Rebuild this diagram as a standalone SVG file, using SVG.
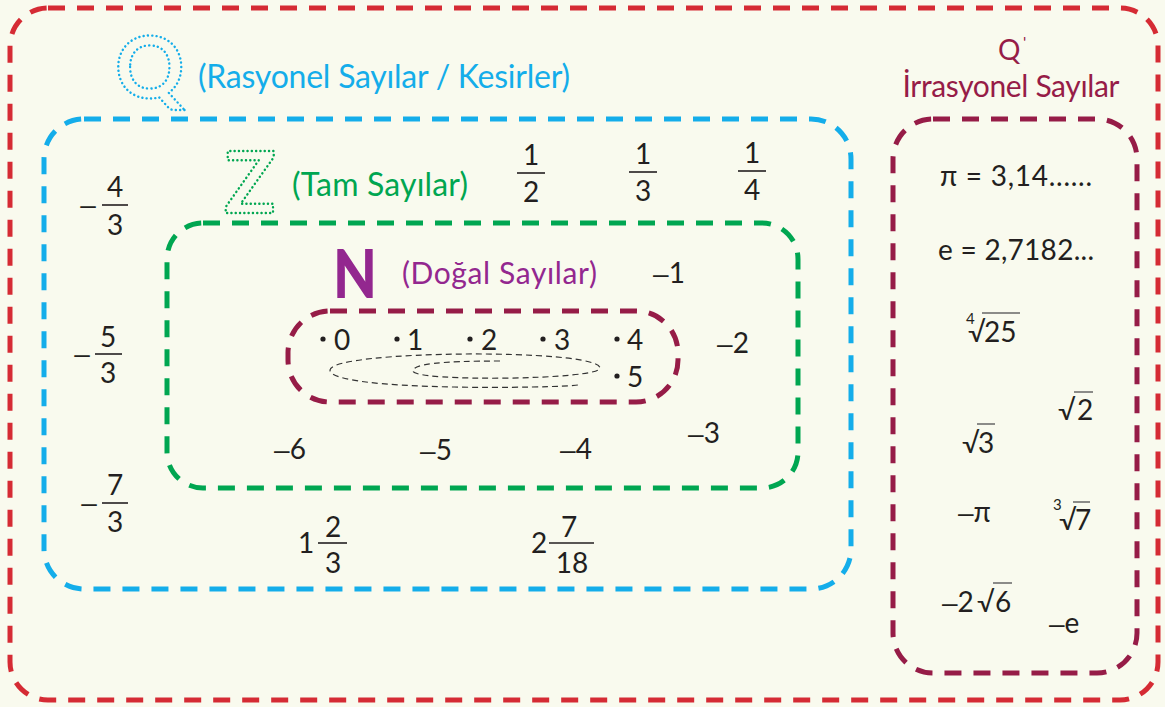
<svg xmlns="http://www.w3.org/2000/svg" width="1165" height="707" viewBox="0 0 1165 707">
<style>
.box{fill:none;stroke-width:5;stroke-dasharray:17 12;stroke-linecap:butt}
.t{font-family:Lato,'Open Sans','Liberation Sans',sans-serif;fill:#231f20;font-size:28px}
.d{font-family:'Liberation Sans',sans-serif}
.m{text-anchor:middle}
.lbl{font-family:Lato,'Open Sans','Liberation Sans',sans-serif;font-size:32px}
.dot{fill:none;stroke-width:2.4;stroke-dasharray:0.1 4.2;stroke-linecap:round;font-family:Lato,'Liberation Sans',sans-serif;font-weight:bold;font-size:86px}
.bar{stroke:#231f20;stroke-width:1.6}
.ov{stroke:#666;stroke-width:1.5}
.idx{font-family:Lato,'Open Sans',sans-serif;fill:#231f20;font-size:15px}
</style>
<rect width="1165" height="707" fill="#f9faee"/>
<g id="universal">
<rect class="box" x="10" y="8" width="1148" height="692" rx="38" stroke="#d52b34"/>
</g>
<g id="Q-rational">
<rect class="box" x="44" y="119" width="807" height="470" rx="40" stroke="#14adea"/>
<text class="dot" x="115" y="98" stroke="#14adea">Q</text>
<text class="lbl" x="198" y="88" fill="#14adea" textLength="372">(Rasyonel Sayılar / Kesirler)</text>
<text class="t m d" x="88" y="214">–</text>
<text class="t m" x="115" y="197">4</text>
<line class="bar" x1="102" y1="205" x2="128" y2="205"/>
<text class="t m" x="115" y="235">3</text>
<text class="t m d" x="82" y="363">–</text>
<text class="t m" x="108" y="347">5</text>
<line class="bar" x1="95" y1="354" x2="122" y2="354"/>
<text class="t m" x="108" y="383">3</text>
<text class="t m d" x="89" y="512">–</text>
<text class="t m" x="115" y="495">7</text>
<line class="bar" x1="102" y1="503" x2="128" y2="503"/>
<text class="t m" x="115" y="532">3</text>
<text class="t m" x="531" y="165">1</text>
<line class="bar" x1="517" y1="173" x2="545" y2="173"/>
<text class="t m" x="531" y="202">2</text>
<text class="t m" x="643" y="164">1</text>
<line class="bar" x1="629" y1="172" x2="657" y2="172"/>
<text class="t m" x="643" y="201">3</text>
<text class="t m" x="752" y="163">1</text>
<line class="bar" x1="738" y1="171" x2="766" y2="171"/>
<text class="t m" x="752" y="200">4</text>
<text class="t m" x="306" y="553">1</text>
<text class="t m" x="333" y="537">2</text>
<line class="bar" x1="318" y1="543" x2="347" y2="543"/>
<text class="t m" x="333" y="573">3</text>
<text class="t m" x="539" y="553">2</text>
<text class="t m" x="569" y="537">7</text>
<line class="bar" x1="549" y1="543" x2="594" y2="543"/>
<text class="t m" x="572" y="573">18</text>
</g>
<g id="Z-integers">
<rect class="box" x="167" y="223" width="631" height="265" rx="36" stroke="#00a651"/>
<text class="dot" x="224" y="213" stroke="#00a651">Z</text>
<text class="lbl" x="292" y="196" fill="#00a651" textLength="176">(Tam Sayılar)</text>
<text class="t m" x="669" y="283"><tspan class="d">–</tspan>1</text>
<text class="t m" x="733" y="353"><tspan class="d">–</tspan>2</text>
<text class="t m" x="704" y="443"><tspan class="d">–</tspan>3</text>
<text class="t m" x="576" y="459"><tspan class="d">–</tspan>4</text>
<text class="t m" x="436" y="460"><tspan class="d">–</tspan>5</text>
<text class="t m" x="290" y="459"><tspan class="d">–</tspan>6</text>
</g>
<g id="N-natural">
<text x="333" y="298" fill="#93278f" font-family="Lato,'Liberation Sans',sans-serif" font-weight="900" font-size="66" textLength="44" lengthAdjust="spacingAndGlyphs">N</text>
<text x="402" y="284" fill="#93278f" font-family="Lato,'Open Sans',sans-serif" font-size="30" textLength="195">(Doğal Sayılar)</text>
<rect class="box" x="288" y="311" width="390" height="91" rx="42" stroke="#961c47"/>
<path d="M500 361 C440 361 413 364 413 371 C413 382 600 380 600 368 C598 348 332 350 330 370 C330 392 560 388 578 385" fill="none" stroke="#333" stroke-width="1.2" stroke-dasharray="6 4"/>
<g fill="#231f20">
<circle cx="323" cy="339" r="2.6"/>
<circle cx="397" cy="339" r="2.6"/>
<circle cx="470" cy="339" r="2.6"/>
<circle cx="543" cy="339" r="2.6"/>
<circle cx="617" cy="339" r="2.6"/>
<circle cx="617" cy="376" r="2.6"/>
</g>
<text class="t" x="334" y="350">0</text>
<text class="t" x="407" y="350">1</text>
<text class="t" x="481" y="350">2</text>
<text class="t" x="554" y="350">3</text>
<text class="t" x="627" y="350">4</text>
<text class="t" x="627" y="387">5</text>
</g>
<g id="Q-prime-irrational">
<rect class="box" x="893" y="119" width="244" height="554" rx="40" stroke="#961c47"/>
<text x="998" y="60" fill="#961c47" font-family="Lato,'Open Sans',sans-serif" font-size="28">Q</text>
<text x="1023" y="48" fill="#961c47" font-family="Lato,'Open Sans',sans-serif" font-size="16">'</text>
<text x="1011" y="97" fill="#961c47" font-family="Lato,'Open Sans',sans-serif" font-size="30" text-anchor="middle" textLength="217">İrrasyonel Sayılar</text>
<text class="t m" x="1016" y="186" textLength="152">π = 3,14......</text>
<text class="t m" x="1016" y="260" textLength="156">e = 2,7182...</text>
<text class="idx" x="966" y="324">4</text>
<text class="t" x="968" y="342">√</text>
<line class="ov" x1="982" y1="313" x2="1020" y2="313"/>
<text class="t" x="984" y="342">25</text>
<text class="t" x="1058" y="420">√</text>
<line class="ov" x1="1074" y1="392" x2="1093" y2="392"/>
<text class="t" x="1077" y="420">2</text>
<text class="t" x="962" y="453">√</text>
<line class="ov" x1="977" y1="424" x2="995" y2="424"/>
<text class="t" x="978" y="453">3</text>
<text class="t" x="958" y="522"><tspan class="d">–</tspan>π</text>
<text class="idx" x="1053" y="510">3</text>
<text class="t" x="1059" y="530">√</text>
<line class="ov" x1="1073" y1="502" x2="1090" y2="502"/>
<text class="t" x="1075" y="530">7</text>
<text class="t" x="942" y="612"><tspan class="d">–</tspan>2</text>
<text class="t" x="977" y="612">√</text>
<line class="ov" x1="993" y1="583" x2="1012" y2="583"/>
<text class="t" x="995" y="612">6</text>
<text class="t" x="1049" y="633"><tspan class="d">–</tspan>e</text>
</g>
<g id="connectors"/>
</svg>
